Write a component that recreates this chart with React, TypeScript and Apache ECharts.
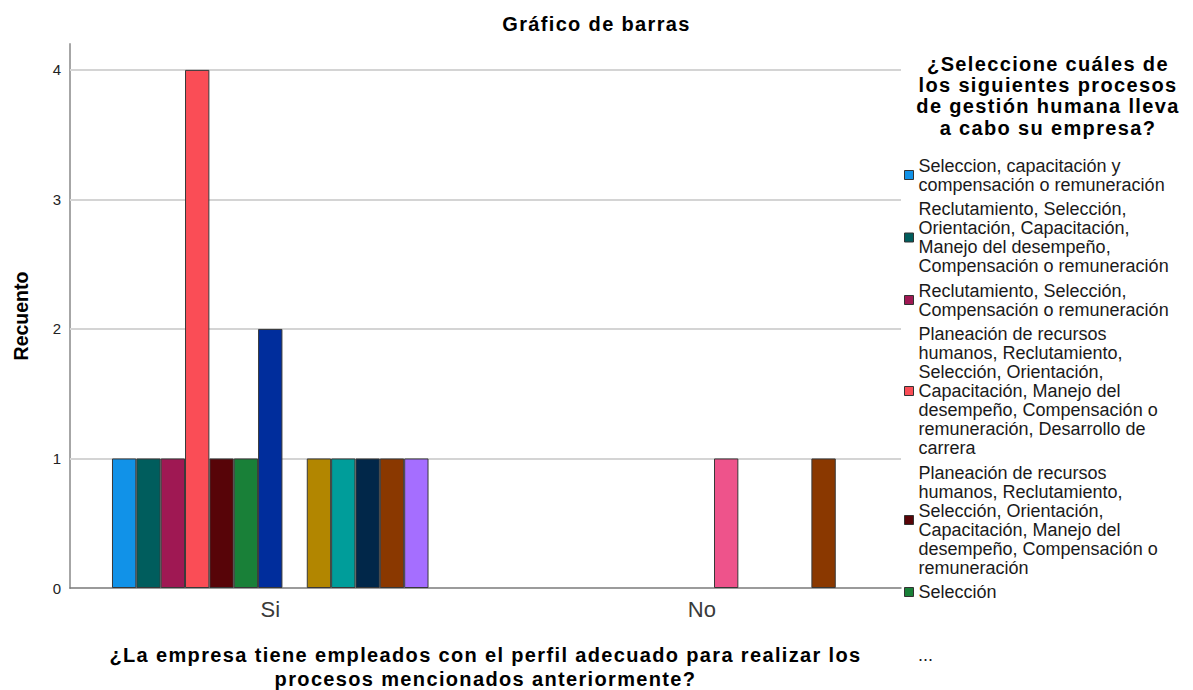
import { useEffect, useRef } from 'react';
import * as echarts from 'echarts';

// Answer categories on the horizontal axis
const CATEGORIES = ['Si', 'No'];

// Processes reported (one clustered bar per process)
const PROCESS_NAMES = [
  'Seleccion, capacitación y\ncompensación o remuneración',
  'Reclutamiento, Selección,\nOrientación, Capacitación,\nManejo del desempeño,\nCompensación o remuneración',
  'Reclutamiento, Selección,\nCompensación o remuneración',
  'Planeación de recursos\nhumanos, Reclutamiento,\nSelección, Orientación,\nCapacitación, Manejo del\ndesempeño, Compensación o\nremuneración, Desarrollo de\ncarrera',
  'Planeación de recursos\nhumanos, Reclutamiento,\nSelección, Orientación,\nCapacitación, Manejo del\ndesempeño, Compensación o\nremuneración',
  'Selección',
  'Otra combinación 7',
  'Otra combinación 8',
  'Otra combinación 9',
  'Otra combinación 10',
  'Otra combinación 11',
  'Otra combinación 12',
  'Otra combinación 13',
];

// Counts per process for "Si" and "No"
const COUNT_SI = [1, 1, 1, 4, 1, 1, 2, 0, 1, 1, 1, 1, 1];
const COUNT_NO = [0, 0, 0, 0, 0, 0, 0, 1, 0, 0, 0, 1, 0];

const COLORS = [
  '#1192e8', '#005d5d', '#9f1853', '#fa4d56', '#570408', '#198038', '#002d9c',
  '#ee538b', '#b28600', '#009d9a', '#012749', '#8a3800', '#a56eff',
];

const Y_TICKS = [0, 1, 2, 3, 4];
const LEGEND_VISIBLE = 6;

const TITLE = 'Gráfico de barras';
const Y_NAME = 'Recuento';
const X_NAME =
  '¿La empresa tiene empleados con el perfil adecuado para realizar los\nprocesos mencionados anteriormente?';
const LEGEND_TITLE =
  '¿Seleccione cuáles de\nlos siguientes procesos\nde gestión humana lleva\na cabo su empresa?';

const FONT = 'Liberation Sans';

export default function App() {
  const ref = useRef<HTMLDivElement>(null);

  useEffect(() => {
    if (!ref.current) return;
    const chart = echarts.init(ref.current, undefined, { renderer: 'svg' });

    const series = PROCESS_NAMES.map((name, i) => ({
      name,
      type: 'bar',
      barWidth: 24.35,
      barGap: '0%',
      itemStyle: { color: COLORS[i], borderColor: '#383838', borderWidth: 1 },
      emphasis: { disabled: true },
      data: CATEGORIES.map((_, c) => {
        const v = c === 0 ? COUNT_SI[i] : COUNT_NO[i];
        return [c, v > 0 ? v : '-'];
      }),
      ...(i === 0
        ? {
            markLine: {
              silent: true,
              symbol: 'none',
              z: 1,
              label: { show: false },
              lineStyle: { color: '#d4d4d4', width: 2, type: 'solid' },
              data: Y_TICKS.filter((t) => t > 0).map((t) => ({ yAxis: t })),
            },
          }
        : {}),
    }));

    chart.setOption({
      animation: false,
      textStyle: { fontFamily: FONT },
      title: {
        text: TITLE,
        left: 'center',
        top: 14,
        padding: 0,
        textStyle: { fontFamily: FONT, fontSize: 20, fontWeight: 'bold', color: '#000' },
      },
      grid: {
        left: 70,
        right: 292,
        top: 44,
        bottom: 102,
        containLabel: false,
        outerBoundsMode: 'none',
      },
      xAxis: {
        type: 'value',
        min: -0.464,
        max: 1.4615,
        name: X_NAME,
        nameLocation: 'middle',
        nameGap: 54.5,
        nameTextStyle: {
          fontFamily: FONT,
          fontSize: 20,
          fontWeight: 'bold',
          color: '#000',
          lineHeight: 24,
        },
        axisLine: { show: true, onZero: false, lineStyle: { color: '#7a7a7a', width: 1.5 } },
        axisTick: { show: false },
        splitLine: { show: false },
        axisLabel: {
          customValues: CATEGORIES.map((_, i) => i),
          formatter: (v: number) => (Number.isInteger(v) && CATEGORIES[v] ? CATEGORIES[v] : ''),
          fontFamily: FONT,
          fontSize: 22,
          color: '#3a3a3a',
          margin: 10,
        },
      },
      yAxis: {
        type: 'value',
        min: 0,
        max: 4.2,
        interval: 1,
        name: Y_NAME,
        nameLocation: 'middle',
        nameGap: 39,
        nameTextStyle: { fontFamily: FONT, fontSize: 19.5, fontWeight: 'bold', color: '#000' },
        axisLine: { show: true, onZero: false, lineStyle: { color: '#a6a6a6', width: 2 } },
        axisTick: { show: false },
        splitLine: { show: false },
        axisLabel: {
          formatter: (v: number) => (Y_TICKS.includes(v) ? String(v) : ''),
          fontFamily: FONT,
          fontSize: 15,
          color: '#222',
          margin: 9,
        },
      },
      legend: {
        data: PROCESS_NAMES.slice(0, LEGEND_VISIBLE),
        orient: 'vertical',
        left: 904,
        top: 156,
        padding: 0,
        itemGap: 5.5,
        itemWidth: 9,
        itemHeight: 9,
        icon: 'rect',
        selectedMode: false,
        itemStyle: { borderColor: '#333', borderWidth: 1 },
        textStyle: { fontFamily: FONT, fontSize: 18, lineHeight: 19, color: '#1a1a1a', padding: [0, 0, 0, 0] },
      },
      graphic: [
        {
          type: 'text',
          x: 1048,
          y: 53,
          style: {
            text: LEGEND_TITLE,
            fontFamily: FONT,
            fontSize: 20,
            fontWeight: 'bold',
            lineHeight: 21.3,
            fill: '#000',
            align: 'center',
            verticalAlign: 'top',
          },
        },
        {
          type: 'text',
          x: 918,
          y: 645,
          style: {
            text: '...',
            fontFamily: FONT,
            fontSize: 18,
            lineHeight: 19,
            fill: '#1a1a1a',
            align: 'left',
            verticalAlign: 'top',
          },
        },
      ],
      series,
    });

    return () => chart.dispose();
  }, []);

  return (
    <>
      <style>{`
        body { margin: 0; }
        .bar-chart svg text[style*="bold"][style*="20px"] { letter-spacing: 1.35px; }
      `}</style>
      <div className="bar-chart" ref={ref} style={{ width: 1193, height: 690 }} />
    </>
  );
}
